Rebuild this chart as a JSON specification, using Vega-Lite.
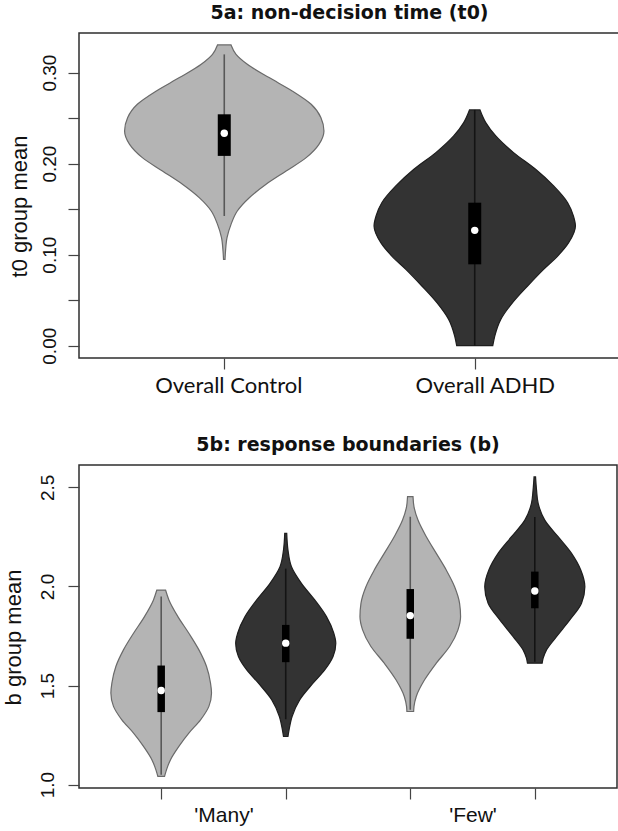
{
  "$schema": "https://vega.github.io/schema/vega-lite/v6.json",
  "background": "white",
  "padding": {"left": 1, "top": 2, "right": 0, "bottom": 0},
  "config": {
    "view": {"stroke": "#2e2e2e", "strokeWidth": 1.5},
    "axis": {"grid": false, "domain": false}
  },
  "datasets": {
    "t0_shape": [
      {"k": 1, "grp": "Control", "v": 0.0949, "w": 0.003},
      {"k": 1, "grp": "Control", "v": 0.1040, "w": 0.005},
      {"k": 1, "grp": "Control", "v": 0.1187, "w": 0.011},
      {"k": 1, "grp": "Control", "v": 0.1333, "w": 0.027},
      {"k": 1, "grp": "Control", "v": 0.1480, "w": 0.052},
      {"k": 1, "grp": "Control", "v": 0.1626, "w": 0.100},
      {"k": 1, "grp": "Control", "v": 0.1773, "w": 0.167},
      {"k": 1, "grp": "Control", "v": 0.1919, "w": 0.247},
      {"k": 1, "grp": "Control", "v": 0.2066, "w": 0.327},
      {"k": 1, "grp": "Control", "v": 0.2212, "w": 0.378},
      {"k": 1, "grp": "Control", "v": 0.2359, "w": 0.398},
      {"k": 1, "grp": "Control", "v": 0.2505, "w": 0.386},
      {"k": 1, "grp": "Control", "v": 0.2652, "w": 0.347},
      {"k": 1, "grp": "Control", "v": 0.2799, "w": 0.271},
      {"k": 1, "grp": "Control", "v": 0.2945, "w": 0.179},
      {"k": 1, "grp": "Control", "v": 0.3092, "w": 0.092},
      {"k": 1, "grp": "Control", "v": 0.3201, "w": 0.047},
      {"k": 1, "grp": "Control", "v": 0.3304, "w": 0.027},
      {"k": 2, "grp": "ADHD", "v": 0.0000, "w": 0.072},
      {"k": 2, "grp": "ADHD", "v": 0.0106, "w": 0.080},
      {"k": 2, "grp": "ADHD", "v": 0.0289, "w": 0.104},
      {"k": 2, "grp": "ADHD", "v": 0.0473, "w": 0.151},
      {"k": 2, "grp": "ADHD", "v": 0.0656, "w": 0.211},
      {"k": 2, "grp": "ADHD", "v": 0.0839, "w": 0.275},
      {"k": 2, "grp": "ADHD", "v": 0.0985, "w": 0.331},
      {"k": 2, "grp": "ADHD", "v": 0.1132, "w": 0.375},
      {"k": 2, "grp": "ADHD", "v": 0.1315, "w": 0.402},
      {"k": 2, "grp": "ADHD", "v": 0.1425, "w": 0.394},
      {"k": 2, "grp": "ADHD", "v": 0.1571, "w": 0.371},
      {"k": 2, "grp": "ADHD", "v": 0.1755, "w": 0.315},
      {"k": 2, "grp": "ADHD", "v": 0.1938, "w": 0.243},
      {"k": 2, "grp": "ADHD", "v": 0.2121, "w": 0.155},
      {"k": 2, "grp": "ADHD", "v": 0.2304, "w": 0.084},
      {"k": 2, "grp": "ADHD", "v": 0.2451, "w": 0.044},
      {"k": 2, "grp": "ADHD", "v": 0.2590, "w": 0.021}
    ],
    "t0_stats": [
      {"k": 1, "grp": "Control", "wlo": 0.1425, "whi": 0.320, "q1": 0.2085, "q3": 0.2542, "med": 0.2333},
      {"k": 2, "grp": "ADHD", "wlo": 0.0, "whi": 0.259, "q1": 0.0894, "q3": 0.1571, "med": 0.1267}
    ],
    "b_shape": [
      {"k": 1, "grp": "Control", "v": 1.042, "w": 0.027},
      {"k": 1, "grp": "Control", "v": 1.076, "w": 0.043},
      {"k": 1, "grp": "Control", "v": 1.126, "w": 0.075},
      {"k": 1, "grp": "Control", "v": 1.193, "w": 0.142},
      {"k": 1, "grp": "Control", "v": 1.260, "w": 0.222},
      {"k": 1, "grp": "Control", "v": 1.327, "w": 0.316},
      {"k": 1, "grp": "Control", "v": 1.395, "w": 0.383},
      {"k": 1, "grp": "Control", "v": 1.462, "w": 0.404},
      {"k": 1, "grp": "Control", "v": 1.512, "w": 0.396},
      {"k": 1, "grp": "Control", "v": 1.596, "w": 0.364},
      {"k": 1, "grp": "Control", "v": 1.680, "w": 0.303},
      {"k": 1, "grp": "Control", "v": 1.764, "w": 0.222},
      {"k": 1, "grp": "Control", "v": 1.848, "w": 0.134},
      {"k": 1, "grp": "Control", "v": 1.932, "w": 0.062},
      {"k": 1, "grp": "Control", "v": 1.982, "w": 0.035},
      {"k": 2, "grp": "ADHD", "v": 1.243, "w": 0.018},
      {"k": 2, "grp": "ADHD", "v": 1.277, "w": 0.027},
      {"k": 2, "grp": "ADHD", "v": 1.344, "w": 0.051},
      {"k": 2, "grp": "ADHD", "v": 1.428, "w": 0.112},
      {"k": 2, "grp": "ADHD", "v": 1.512, "w": 0.219},
      {"k": 2, "grp": "ADHD", "v": 1.579, "w": 0.313},
      {"k": 2, "grp": "ADHD", "v": 1.647, "w": 0.380},
      {"k": 2, "grp": "ADHD", "v": 1.714, "w": 0.402},
      {"k": 2, "grp": "ADHD", "v": 1.764, "w": 0.386},
      {"k": 2, "grp": "ADHD", "v": 1.848, "w": 0.327},
      {"k": 2, "grp": "ADHD", "v": 1.932, "w": 0.233},
      {"k": 2, "grp": "ADHD", "v": 2.016, "w": 0.126},
      {"k": 2, "grp": "ADHD", "v": 2.100, "w": 0.046},
      {"k": 2, "grp": "ADHD", "v": 2.184, "w": 0.018},
      {"k": 2, "grp": "ADHD", "v": 2.268, "w": 0.008},
      {"k": 3, "grp": "Control", "v": 1.369, "w": 0.027},
      {"k": 3, "grp": "Control", "v": 1.395, "w": 0.030},
      {"k": 3, "grp": "Control", "v": 1.445, "w": 0.048},
      {"k": 3, "grp": "Control", "v": 1.529, "w": 0.115},
      {"k": 3, "grp": "Control", "v": 1.613, "w": 0.209},
      {"k": 3, "grp": "Control", "v": 1.697, "w": 0.316},
      {"k": 3, "grp": "Control", "v": 1.781, "w": 0.383},
      {"k": 3, "grp": "Control", "v": 1.848, "w": 0.404},
      {"k": 3, "grp": "Control", "v": 1.915, "w": 0.396},
      {"k": 3, "grp": "Control", "v": 1.999, "w": 0.356},
      {"k": 3, "grp": "Control", "v": 2.083, "w": 0.289},
      {"k": 3, "grp": "Control", "v": 2.167, "w": 0.209},
      {"k": 3, "grp": "Control", "v": 2.251, "w": 0.129},
      {"k": 3, "grp": "Control", "v": 2.335, "w": 0.062},
      {"k": 3, "grp": "Control", "v": 2.402, "w": 0.030},
      {"k": 3, "grp": "Control", "v": 2.453, "w": 0.022},
      {"k": 4, "grp": "ADHD", "v": 1.613, "w": 0.059},
      {"k": 4, "grp": "ADHD", "v": 1.638, "w": 0.067},
      {"k": 4, "grp": "ADHD", "v": 1.680, "w": 0.094},
      {"k": 4, "grp": "ADHD", "v": 1.747, "w": 0.174},
      {"k": 4, "grp": "ADHD", "v": 1.831, "w": 0.281},
      {"k": 4, "grp": "ADHD", "v": 1.915, "w": 0.375},
      {"k": 4, "grp": "ADHD", "v": 1.999, "w": 0.402},
      {"k": 4, "grp": "ADHD", "v": 2.083, "w": 0.369},
      {"k": 4, "grp": "ADHD", "v": 2.167, "w": 0.295},
      {"k": 4, "grp": "ADHD", "v": 2.251, "w": 0.187},
      {"k": 4, "grp": "ADHD", "v": 2.335, "w": 0.080},
      {"k": 4, "grp": "ADHD", "v": 2.419, "w": 0.027},
      {"k": 4, "grp": "ADHD", "v": 2.486, "w": 0.014},
      {"k": 4, "grp": "ADHD", "v": 2.553, "w": 0.006}
    ],
    "b_stats": [
      {"k": 1, "grp": "Control", "wlo": 1.05, "whi": 1.95, "q1": 1.366, "q3": 1.601, "med": 1.475},
      {"k": 2, "grp": "ADHD", "wlo": 1.33, "whi": 2.09, "q1": 1.618, "q3": 1.806, "med": 1.714},
      {"k": 3, "grp": "Control", "wlo": 1.378, "whi": 2.352, "q1": 1.736, "q3": 1.987, "med": 1.853},
      {"k": 4, "grp": "ADHD", "wlo": 1.62, "whi": 2.35, "q1": 1.890, "q3": 2.075, "med": 1.977}
    ]
  },
  "concat": [
    {
      "width": 541,
      "height": 325,
      "title": {"text": "5a: non-decision time (t0)", "font": "DejaVu Sans", "fontSize": 19, "fontWeight": "bold", "color": "#111111", "frame": "group", "anchor": "middle", "baseline": "bottom", "offset": -8.5},
      "layer": [
        {
          "data": {"name": "t0_shape"},
          "transform": [
            {"calculate": "datum.k - datum.w", "as": "lo"},
            {"calculate": "datum.k + datum.w", "as": "hi"}
          ],
          "mark": {"type": "area", "orient": "horizontal", "interpolate": "monotone", "strokeWidth": 1.2, "fillOpacity": 1},
          "encoding": {
            "y": {"field": "v", "type": "quantitative", "title": "t0 group mean", "scale": {"domain": [-0.0135, 0.3435], "nice": false, "zero": false},
              "axis": {"values": [0, 0.05, 0.1, 0.15, 0.2, 0.25, 0.3],
                "labelExpr": "(round(datum.value*100) % 10 == 0) ? format(datum.value, '.2f') : ''",
                "labelAngle": 270, "labelAlign": "center", "labelBaseline": "alphabetic", "labelPadding": 13,
                "labelFont": "Liberation Sans", "labelFontSize": 19, "labelColor": "#111111", "labelFlush": false, "labelOverlap": false,
                "tickSize": 11, "tickColor": "#444444", "tickWidth": 1.2,
                "titleFont": "Liberation Sans", "titleFontSize": 22, "titleFontWeight": "normal", "titleColor": "#111111",
                "titleAngle": 270, "titleBaseline": "top", "titleAlign": "center", "titleX": -70, "titleY": 173}},
            "x": {"field": "lo", "type": "quantitative", "stack": null, "title": null, "scale": {"domain": [0.42, 2.58], "nice": false, "zero": false},
              "axis": {"values": [1, 2],
                "labelExpr": "datum.value == 1 ? 'Overall Control' : 'Overall ADHD'",
                "labelOffset": {"condition": {"test": "datum.value == 1", "value": 4}, "value": 10},
                "labelFont": "Lato", "labelFontSize": 22, "labelColor": "#111111", "labelBaseline": "alphabetic", "labelPadding": 23,
                "labelFlush": false, "labelOverlap": false,
                "tickSize": 11, "tickColor": "#444444", "tickWidth": 1.2}},
            "x2": {"field": "hi"},
            "fill": {"field": "grp", "type": "nominal", "scale": {"domain": ["Control", "ADHD"], "range": ["#b4b4b4", "#333333"]}, "legend": null},
            "stroke": {"field": "grp", "type": "nominal", "scale": {"domain": ["Control", "ADHD"], "range": ["#6a6a6a", "#1e1e1e"]}, "legend": null},
            "detail": {"field": "k"}
          }
        },
        {
          "data": {"name": "t0_stats"},
          "mark": {"type": "rule", "strokeWidth": 1.6},
          "encoding": {
            "x": {"field": "k", "type": "quantitative", "title": null},
            "y": {"field": "wlo", "type": "quantitative", "title": "t0 group mean"},
            "y2": {"field": "whi"},
            "color": {"field": "grp", "type": "nominal", "scale": {"domain": ["Control", "ADHD"], "range": ["#585858", "#141414"]}, "legend": null}
          }
        },
        {
          "data": {"name": "t0_stats"},
          "mark": {"type": "rule", "strokeWidth": 13, "color": "#000000", "strokeCap": "butt"},
          "encoding": {
            "x": {"field": "k", "type": "quantitative", "title": null},
            "y": {"field": "q1", "type": "quantitative", "title": "t0 group mean"},
            "y2": {"field": "q3"}
          }
        },
        {
          "data": {"name": "t0_stats"},
          "mark": {"type": "point", "shape": "circle", "filled": true, "color": "#ffffff", "opacity": 1, "size": 55},
          "encoding": {
            "x": {"field": "k", "type": "quantitative", "title": null},
            "y": {"field": "med", "type": "quantitative", "title": "t0 group mean"}
          }
        }
      ]
    },
    {
      "width": 538,
      "height": 323,
      "title": {"text": "5b: response boundaries (b)", "font": "DejaVu Sans", "fontSize": 19, "fontWeight": "bold", "color": "#111111", "frame": "group", "anchor": "middle", "baseline": "bottom", "offset": -8.5},
      "layer": [
        {
          "data": {"name": "b_shape"},
          "transform": [
            {"calculate": "datum.k - datum.w", "as": "lo"},
            {"calculate": "datum.k + datum.w", "as": "hi"}
          ],
          "mark": {"type": "area", "orient": "horizontal", "interpolate": "monotone", "strokeWidth": 1.2, "fillOpacity": 1},
          "encoding": {
            "y": {"field": "v", "type": "quantitative", "title": "b group mean", "scale": {"domain": [0.983, 2.613], "nice": false, "zero": false},
              "axis": {"values": [1, 1.5, 2, 2.5], "format": ".1f",
                "labelAngle": 270, "labelAlign": "center", "labelBaseline": "alphabetic", "labelPadding": 15,
                "labelFont": "Liberation Sans", "labelFontSize": 19, "labelColor": "#111111", "labelFlush": false, "labelOverlap": false,
                "tickSize": 11, "tickColor": "#444444", "tickWidth": 1.2,
                "titleFont": "Liberation Sans", "titleFontSize": 22, "titleFontWeight": "normal", "titleColor": "#111111",
                "titleAngle": 270, "titleBaseline": "top", "titleAlign": "center", "titleX": -76, "titleY": 172}},
            "x": {"field": "lo", "type": "quantitative", "stack": null, "title": null, "scale": {"domain": [0.34, 4.66], "nice": false, "zero": false},
              "axis": {"values": [1, 1.5, 2, 3, 3.5, 4],
                "labelExpr": "datum.value == 1.5 ? \"'Many'\" : (datum.value == 3.5 ? \"'Few'\" : '')",
                "tickOpacity": {"condition": {"test": "datum.value == 1.5 || datum.value == 3.5", "value": 0}, "value": 1},
                "labelFont": "Liberation Sans", "labelFontSize": 21, "labelColor": "#111111", "labelBaseline": "alphabetic", "labelPadding": 22,
                "labelFlush": false, "labelOverlap": false,
                "tickSize": 11, "tickColor": "#444444", "tickWidth": 1.2}},
            "x2": {"field": "hi"},
            "fill": {"field": "grp", "type": "nominal", "scale": {"domain": ["Control", "ADHD"], "range": ["#b4b4b4", "#333333"]}, "legend": null},
            "stroke": {"field": "grp", "type": "nominal", "scale": {"domain": ["Control", "ADHD"], "range": ["#6a6a6a", "#1e1e1e"]}, "legend": null},
            "detail": {"field": "k"}
          }
        },
        {
          "data": {"name": "b_stats"},
          "mark": {"type": "rule", "strokeWidth": 1.6},
          "encoding": {
            "x": {"field": "k", "type": "quantitative", "title": null},
            "y": {"field": "wlo", "type": "quantitative", "title": "b group mean"},
            "y2": {"field": "whi"},
            "color": {"field": "grp", "type": "nominal", "scale": {"domain": ["Control", "ADHD"], "range": ["#585858", "#141414"]}, "legend": null}
          }
        },
        {
          "data": {"name": "b_stats"},
          "mark": {"type": "rule", "strokeWidth": 7.5, "color": "#000000", "strokeCap": "butt"},
          "encoding": {
            "x": {"field": "k", "type": "quantitative", "title": null},
            "y": {"field": "q1", "type": "quantitative", "title": "b group mean"},
            "y2": {"field": "q3"}
          }
        },
        {
          "data": {"name": "b_stats"},
          "mark": {"type": "point", "shape": "circle", "filled": true, "color": "#ffffff", "opacity": 1, "size": 55},
          "encoding": {
            "x": {"field": "k", "type": "quantitative", "title": null},
            "y": {"field": "med", "type": "quantitative", "title": "b group mean"}
          }
        }
      ]
    }
  ],
  "columns": 1,
  "align": "none",
  "spacing": 37
}
